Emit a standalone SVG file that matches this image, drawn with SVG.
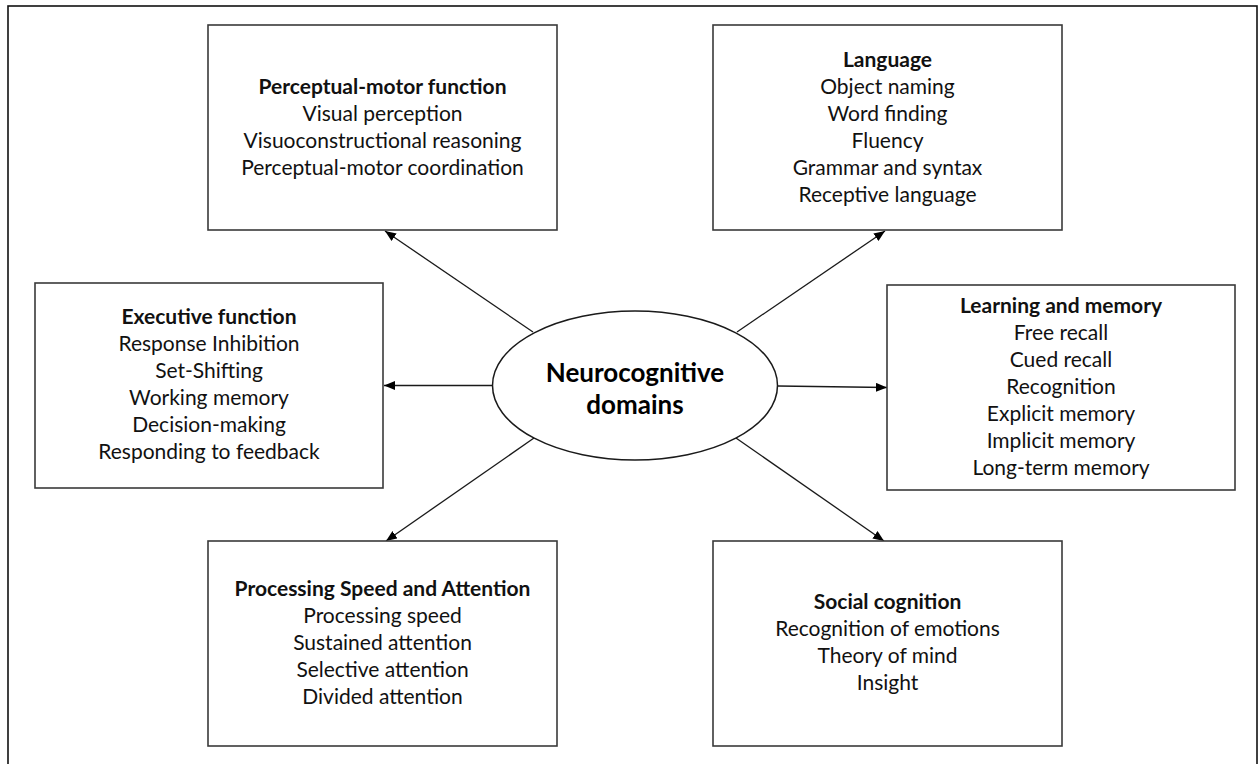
<svg xmlns="http://www.w3.org/2000/svg" width="1258" height="764" viewBox="0 0 1258 764">
<style>
.box{fill:#fff;stroke:#3a3a3a;stroke-width:1.6}
.frame{fill:none;stroke:#111;stroke-width:1.6}
.t{font-family:Lato,"Open Sans","Liberation Sans",sans-serif;font-size:21px;fill:#111;text-anchor:middle}
.b{font-weight:bold}
.c{font-family:Lato,"Open Sans","Liberation Sans",sans-serif;font-size:26px;font-weight:bold;fill:#000;text-anchor:middle}
.con{stroke:#1a1a1a;stroke-width:1.3;fill:none;marker-end:url(#ah)}
</style>
<defs>
<marker id="ah" markerUnits="userSpaceOnUse" markerWidth="12" markerHeight="10" refX="11" refY="4.5" orient="auto">
<path d="M0,0 L11,4.5 L0,9 Z" fill="#000"/>
</marker>
</defs>
<rect width="1258" height="764" fill="#fff"/>
<rect class="frame" x="8" y="6" width="1249" height="800"/>
<g id="connectors">
<line class="con" x1="533" y1="332" x2="385" y2="231"/>
<line class="con" x1="737" y1="332" x2="885" y2="231"/>
<line class="con" x1="493" y1="385.5" x2="384" y2="385.5"/>
<line class="con" x1="778" y1="386" x2="887" y2="387.5"/>
<line class="con" x1="534" y1="438" x2="386" y2="541"/>
<line class="con" x1="736" y1="438" x2="884" y2="541"/>
</g>
<g id="perceptual">
<rect class="box" x="208" y="25" width="349" height="205"/>
<text class="t b" x="382.5" y="94">Perceptual-motor function</text>
<text class="t" x="382.5" y="121">Visual perception</text>
<text class="t" x="382.5" y="148">Visuoconstructional reasoning</text>
<text class="t" x="382.5" y="175">Perceptual-motor coordination</text>
</g>
<g id="language">
<rect class="box" x="713" y="25" width="349" height="205"/>
<text class="t b" x="887.5" y="67">Language</text>
<text class="t" x="887.5" y="94">Object naming</text>
<text class="t" x="887.5" y="121">Word finding</text>
<text class="t" x="887.5" y="148">Fluency</text>
<text class="t" x="887.5" y="175">Grammar and syntax</text>
<text class="t" x="887.5" y="202">Receptive language</text>
</g>
<g id="executive">
<rect class="box" x="35" y="283" width="348" height="205"/>
<text class="t b" x="209" y="324">Executive function</text>
<text class="t" x="209" y="351">Response Inhibition</text>
<text class="t" x="209" y="378">Set-Shifting</text>
<text class="t" x="209" y="405">Working memory</text>
<text class="t" x="209" y="432">Decision-making</text>
<text class="t" x="209" y="459">Responding to feedback</text>
</g>
<g id="learning">
<rect class="box" x="887" y="285" width="348" height="205"/>
<text class="t b" x="1061" y="313">Learning and memory</text>
<text class="t" x="1061" y="340">Free recall</text>
<text class="t" x="1061" y="367">Cued recall</text>
<text class="t" x="1061" y="394">Recognition</text>
<text class="t" x="1061" y="421">Explicit memory</text>
<text class="t" x="1061" y="448">Implicit memory</text>
<text class="t" x="1061" y="475">Long-term memory</text>
</g>
<g id="processing">
<rect class="box" x="208" y="541" width="349" height="205"/>
<text class="t b" x="382.5" y="596">Processing Speed and Attention</text>
<text class="t" x="382.5" y="623">Processing speed</text>
<text class="t" x="382.5" y="650">Sustained attention</text>
<text class="t" x="382.5" y="677">Selective attention</text>
<text class="t" x="382.5" y="704">Divided attention</text>
</g>
<g id="social">
<rect class="box" x="713" y="541" width="349" height="205"/>
<text class="t b" x="887.5" y="609">Social cognition</text>
<text class="t" x="887.5" y="636">Recognition of emotions</text>
<text class="t" x="887.5" y="663">Theory of mind</text>
<text class="t" x="887.5" y="690">Insight</text>
</g>
<g id="center">
<ellipse cx="635" cy="385.5" rx="142.5" ry="74.5" fill="#fff" stroke="#1a1a1a" stroke-width="1.5"/>
<text class="c" x="635" y="382">Neurocognitive</text>
<text class="c" x="635" y="414">domains</text>
</g>
</svg>
